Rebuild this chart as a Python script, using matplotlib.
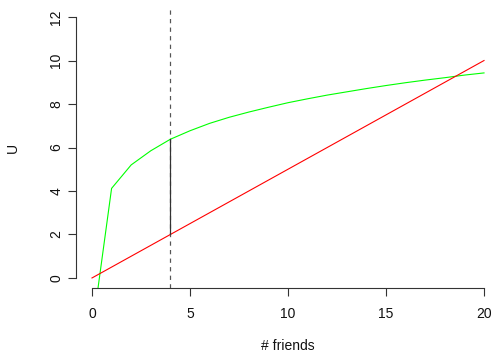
import matplotlib
matplotlib.use("Agg")
import matplotlib.pyplot as plt

# data
friends = [0, 1, 2, 3, 4, 5, 6, 7, 8, 9, 10, 11, 12, 13, 14, 15, 16, 17, 18, 19, 20]
utility = [-2.5, 4.12, 5.2, 5.85, 6.38, 6.77, 7.11, 7.39, 7.63, 7.85, 8.06,
           8.24, 8.41, 8.56, 8.71, 8.85, 8.98, 9.10, 9.21, 9.33, 9.43]
cost_x = [0, 20]
cost_y = [0, 10]
chosen_x = 4
chosen_low = 2.0
chosen_high = 6.38
xticks = [0, 5, 10, 15, 20]
yticks = [0, 2, 4, 6, 8, 10, 12]

plt.rcParams['font.family'] = ['Liberation Sans', 'DejaVu Sans']
W, H = 493, 358
fig = plt.figure(figsize=(W / 100, H / 100), dpi=100)

left_px, right_px = 76.3, 499.7
top_px, bot_px = 6.6, 288.4
ax = fig.add_axes([left_px / W, (H - bot_px) / H,
                   (right_px - left_px) / W, (bot_px - top_px) / H])
ax.set_xlim(-0.8, 20.8)
ax.set_ylim(-0.48, 12.48)

lw = 0.8
ax.axvline(chosen_x, color='#555555', linestyle=(0, (3.5, 3.5)), linewidth=lw * 1.1)
ax.plot(friends, utility, color='#00FF00', linewidth=lw)
ax.plot(cost_x, cost_y, color='#FF0000', linewidth=lw)
ax.plot([chosen_x, chosen_x], [chosen_low, chosen_high], color='#333333', linewidth=lw * 1.1)

for s in ['top', 'right']:
    ax.spines[s].set_visible(False)
ax.spines['left'].set_bounds(0, 12)
ax.spines['bottom'].set_bounds(0, 20)
for s in ['left', 'bottom']:
    ax.spines[s].set_color('#333333')
    ax.spines[s].set_linewidth(0.8)

fs = 10
ax.set_xticks(xticks)
ax.set_yticks(yticks)
ax.tick_params(axis='both', direction='out', length=5.5, width=0.8,
               color='#333333', labelsize=fs, labelcolor='#111111')
ax.tick_params(axis='x', pad=8)
ax.tick_params(axis='y', pad=9)
for lab in ax.get_yticklabels():
    lab.set_rotation(90)
    lab.set_va('center')
    lab.set_ha('center')
    lab.set_rotation_mode('anchor')

fig.text(13 / W, 1 - 148 / H, 'U', rotation=90, ha='center', va='center',
         fontsize=fs, color='#111111')
fig.text(288 / W, 1 - 346 / H, '# friends', ha='center', va='center',
         fontsize=fs, color='#111111')

fig.savefig('out.png', dpi=100)
